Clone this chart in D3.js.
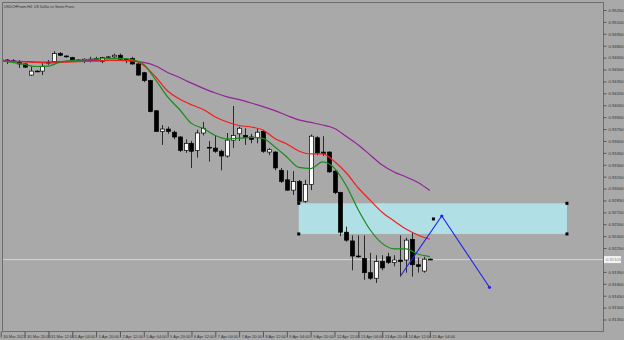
<!DOCTYPE html>
<html>
<head>
<meta charset="utf-8">
<script src="https://cdn.jsdelivr.net/npm/d3@7"></script>
<style>
  body { margin: 0; background: #a9a9a9; }
  svg { display: block; font-family: "Liberation Sans", Arial, sans-serif; }
</style>
</head>
<body>
<script>
// H4 candles, one entry per bar
const opens = [.9462,.9462,.9461,.9459,.9457,.9443,.9448,.9448,.9458,.9460,.9470,.9467,.9465,.9462,.9460,.9463,.9463,.9460,.9465,.9466,
  .9468,.9463,.9464,.9457,.9446,.9436,.9398,.9372,.9375,.9371,.9365,.9348,.9357,.9348,.9370,.9352,.9351,.9347,.9341,.9361,
  .9369,.9367,.9365,.9364,.9372,.9346,.9346,.9323,.9311,.9298,.9309,.9284,.9305,.9364,.9346,.9346,.9322,.9295,.9245,.9234,
  .9215,.9212,.9194,.9187,.9208,.9214,.9207,.9210,.9210,.9236,.9204,.9196,.9211];
const highs = [.9464,.9463,.9463,.9462,.9458,.9454,.9449,.9458,.9462,.9473,.9472,.9468,.9466,.9463,.9464,.9466,.9466,.9466,.9467,.9470,
  .9470,.9463,.9466,.9459,.9447,.9437,.9399,.9380,.9378,.9373,.9366,.9362,.9360,.9374,.9384,.9360,.9367,.9349,.9370,.9404,
  .9378,.9376,.9369,.9376,.9374,.9351,.9347,.9326,.9323,.9322,.9311,.9311,.9368,.9366,.9366,.9347,.9323,.9296,.9252,.9241,
  .9241,.9241,.9219,.9216,.9216,.9219,.9216,.9241,.9238,.9244,.9213,.9214,.9212];
const lows = [.9458,.9457,.9458,.9452,.9452,.9442,.9447,.9443,.9456,.9459,.9467,.9465,.9461,.9461,.9458,.9459,.9463,.9458,.9464,.9464,
  .9462,.9458,.9456,.9442,.9434,.9396,.9372,.9355,.9369,.9362,.9346,.9345,.9326,.9339,.9367,.9334,.9345,.9323,.9339,.9351,
  .9360,.9355,.9357,.9357,.9345,.9342,.9323,.9307,.9297,.9292,.9282,.9282,.9298,.9342,.9341,.9320,.9293,.9240,.9233,.9197,
  .9213,.9185,.9185,.9181,.9197,.9205,.9202,.9189,.9194,.9189,.9194,.9194,.9210];
const closes = [.9461,.9461,.9460,.9457,.9453,.9448,.9447,.9454,.9459,.9470,.9468,.9466,.9462,.9461,.9463,.9462,.9464,.9465,.9466,.9468,
  .9463,.9462,.9457,.9443,.9436,.9397,.9372,.9375,.9372,.9365,.9348,.9357,.9347,.9370,.9376,.9351,.9347,.9341,.9361,.9367,
  .9376,.9364,.9362,.9371,.9347,.9349,.9326,.9309,.9298,.9309,.9284,.9305,.9366,.9345,.9344,.9321,.9295,.9245,.9235,.9215,
  .9214,.9194,.9187,.9208,.9200,.9207,.9210,.9208,.9235,.9204,.9202,.9211,.9210];

// moving averages, read every second bar
const maSlow = [.94614,.94607,.94601,.94595,.94595,.94601,.94607,.94614,.94614,.94614,.94614,.94607,.94589,.94544,.94463,.94400,.94328,.94263,.94204,
  .94156,.94120,.94078,.94033,.93982,.93921,.93865,.93833,.93801,.93757,.93656,.93549,.93423,.93297,.93209,.93146,.93077,.92976];
const maMid = [.94607,.94601,.94595,.94589,.94582,.94589,.94595,.94601,.94607,.94614,.94616,.94614,.94551,.94406,.94229,.94129,.94056,.93996,.93902,
  .93839,.93795,.93776,.93738,.93630,.93562,.93473,.93436,.93436,.93341,.93196,.93007,.92852,.92702,.92591,.92491,.92415,.92361];
const maFast = [.94611,.94589,.94563,.94538,.94544,.94595,.94614,.94620,.94633,.94639,.94641,.94626,.94563,.94368,.94154,.93996,.93821,.93757,.93669,
  .93625,.93635,.93646,.93632,.93524,.93398,.93266,.93252,.93335,.93255,.93032,.92730,.92478,.92309,.92241,.92239,.92176,.92142];

const timeLabels = ["30 Mar 2021","30 Mar 20:00","31 Mar 12:00","1 Apr 04:00","1 Apr 20:00","2 Apr 12:00","5 Apr 04:00",
  "5 Apr 20:00","6 Apr 12:00","7 Apr 04:00","7 Apr 20:00","8 Apr 12:00","9 Apr 04:00","9 Apr 20:00","12 Apr 12:00",
  "13 Apr 04:00","13 Apr 20:00","14 Apr 12:00","15 Apr 04:00"];
const priceTicks = [0.9525,0.9510,0.9495,0.9480,0.9465,0.9450,0.9435,0.9420,0.9405,0.9390,0.9375,0.9360,0.9345,0.9330,
  0.9315,0.9300,0.9285,0.9270,0.9255,0.9240,0.9225,0.9210,0.9195,0.9180,0.9165,0.9150,0.9135];
const bidPrice = 0.92105;

// drawn objects: zone [bar, price], zigzag path, marker
const zoneBars = [50, 95];
const zonePrices = [0.92814, 0.92428];
const pathBars = [67.1, 74, 82];
const pathPrices = [0.91902, 0.92654, 0.91756];
const markerPoint = [72.6, 0.92617];

const W = 624, H = 340;
const plotLeft = 2, plotRight = 603, plotTop = 2, plotBottom = 331;

const svg = d3.select("body").append("svg").attr("width", W).attr("height", H);
svg.append("rect").attr("width", W).attr("height", H).attr("fill", "#a9a9a9");

const x = d3.scaleLinear().domain([0, 101]).range([0.74, 0.74 + 101 * 5.96]);
const y = d3.scaleLinear().domain([0.9525, 0.9135]).range([10, 319.5]);

svg.append("clipPath").attr("id", "plot")
  .append("rect").attr("x", plotLeft).attr("y", plotTop)
  .attr("width", plotRight - plotLeft).attr("height", plotBottom - plotTop);
const g = svg.append("g").attr("clip-path", "url(#plot)");

// bid line
g.append("line")
  .attr("x1", plotLeft).attr("x2", plotRight)
  .attr("y1", y(bidPrice)).attr("y2", y(bidPrice))
  .attr("stroke", "#d6d6d6").attr("stroke-width", 1);

// zone rectangle
g.append("rect")
  .attr("x", x(zoneBars[0])).attr("y", y(zonePrices[0]))
  .attr("width", x(zoneBars[1]) - x(zoneBars[0]))
  .attr("height", y(zonePrices[1]) - y(zonePrices[0]))
  .attr("fill", "#b0e0e6");
const corners = [[zoneBars[0], zonePrices[0]], [zoneBars[1], zonePrices[0]], [zoneBars[0], zonePrices[1]], [zoneBars[1], zonePrices[1]]];
g.selectAll(".corner").data(corners).enter().append("rect")
  .attr("x", d => x(d[0]) - 1.5).attr("y", d => y(d[1]) - 1.5)
  .attr("width", 3).attr("height", 3).attr("fill", "#000");

// candles
const bars = opens.map((o, i) => ({ i, o, h: highs[i], l: lows[i], c: closes[i] }));
const candle = g.selectAll(".candle").data(bars).enter().append("g");
candle.append("line")
  .attr("x1", d => Math.round(x(d.i)) + 0.5).attr("x2", d => Math.round(x(d.i)) + 0.5)
  .attr("y1", d => y(d.h)).attr("y2", d => y(d.l))
  .attr("stroke", "#2a2a2a").attr("stroke-width", 1);
candle.append("rect")
  .attr("x", d => Math.round(x(d.i)) - 1.5)
  .attr("y", d => y(Math.max(d.o, d.c)))
  .attr("width", 4)
  .attr("height", d => Math.max(0.8, Math.abs(y(d.o) - y(d.c))))
  .attr("fill", d => d.c > d.o ? "#fff" : "#000")
  .attr("stroke", "#000").attr("stroke-width", 0.7);

// moving averages
const maLine = d3.line().x((d, k) => x(k * 2)).y(d => y(d)).curve(d3.curveMonotoneX);
[[maSlow, "#93229b"], [maMid, "#f51d1d"], [maFast, "#1b8a1b"]].forEach(([vals, col]) => {
  g.append("path").attr("d", maLine(vals))
    .attr("fill", "none").attr("stroke", col).attr("stroke-width", 1.2);
});

// zigzag projection
const pts = pathBars.map((b, k) => [x(b), y(pathPrices[k])]);
g.append("path").attr("d", d3.line()(pts))
  .attr("fill", "none").attr("stroke", "#2323f0").attr("stroke-width", 1.1);
g.selectAll(".pt").data(pts.slice(1)).enter().append("circle")
  .attr("cx", d => d[0]).attr("cy", d => d[1]).attr("r", 1.6).attr("fill", "#2323f0");
g.append("rect")
  .attr("x", x(markerPoint[0]) - 1.5).attr("y", y(markerPoint[1]) - 1.5)
  .attr("width", 3).attr("height", 3).attr("fill", "#000");

// frame
svg.append("rect")
  .attr("x", plotLeft + 0.5).attr("y", plotTop + 0.5)
  .attr("width", plotRight - plotLeft).attr("height", plotBottom - plotTop)
  .attr("fill", "none").attr("stroke", "#6e6e6e").attr("stroke-width", 1);

// price axis
const yAxis = svg.append("g")
  .attr("transform", `translate(${plotRight + 0.5},0)`)
  .call(d3.axisRight(y).tickValues(priceTicks.filter(p => Math.abs(p - bidPrice) > 0.0005))
    .tickSize(3).tickPadding(2).tickFormat(d3.format(".5f")));
yAxis.select(".domain").remove();
yAxis.selectAll("line").attr("stroke", "#555");
yAxis.selectAll("text").attr("font-size", 4.2).attr("fill", "#333");

// bid label
svg.append("rect").attr("x", plotRight + 1).attr("y", y(bidPrice) - 3.5)
  .attr("width", 17).attr("height", 7).attr("fill", "#f4f4f4");
svg.append("text").attr("x", plotRight + 3).attr("y", y(bidPrice) + 1.5)
  .attr("font-size", 4.2).attr("fill", "#888").text(d3.format(".5f")(bidPrice));

// time axis
const xAxis = svg.append("g")
  .attr("transform", `translate(0,${plotBottom + 0.5})`)
  .call(d3.axisBottom(x).tickValues(timeLabels.map((t, k) => k * 4))
    .tickSize(6).tickFormat((d, k) => timeLabels[k]));
xAxis.select(".domain").remove();
xAxis.selectAll("line").attr("stroke", "#555");
xAxis.selectAll("text")
  .attr("text-anchor", "start").attr("dx", 2).attr("y", 3.5)
  .attr("font-size", 4).attr("fill", "#333");

// title
svg.append("text").attr("x", 4).attr("y", 7.5)
  .attr("font-size", 3.6).attr("fill", "#333")
  .text("USDCHFswm,H4:  US Dollar vs Swiss Franc");
</script>
</body>
</html>
